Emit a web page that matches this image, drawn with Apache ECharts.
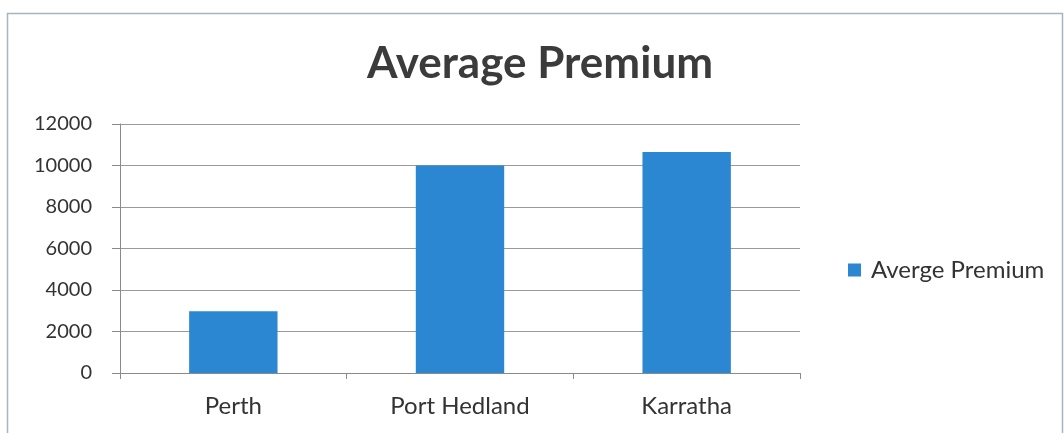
<!DOCTYPE html>
<html>
<head>
<meta charset="utf-8">
<script src="https://cdn.jsdelivr.net/npm/echarts@6/dist/echarts.min.js"></script>
<style>
html,body{margin:0;padding:0;background:#fff;}
#chart{width:1064px;height:433px;}
</style>
</head>
<body>
<div id="chart"></div>
<script>
const categories = ["Perth", "Port Hedland", "Karratha"];
const premiumValues = [2980, 10000, 10650];
const yTicks = [0, 2000, 4000, 6000, 8000, 10000, 12000];
const seriesName = "Averge Premium";
const titleText = "Average Premium";

const chart = echarts.init(document.getElementById('chart'), null, {renderer: 'canvas'});
const font = 'Lato, "Open Sans", "Noto Sans", sans-serif';
chart.setOption({
  animation: false,
  backgroundColor: '#ffffff',
  graphic: [{
    type: 'rect', left: 5, top: 11, silent: true,
    shape: {width: 1055, height: 430},
    style: {fill: 'none', stroke: '#a9b4bf', lineWidth: 1.5}
  }],
  title: {
    text: titleText, left: 362, top: 37,
    textStyle: {fontFamily: font, fontSize: 44, fontWeight: 'bold', color: '#3b3b3b'}
  },
  legend: {
    data: [seriesName], left: 843, top: 253, orient: 'vertical',
    itemWidth: 13, itemHeight: 13, itemGap: 8,
    icon: 'rect',
    textStyle: {fontFamily: font, fontSize: 24, color: '#333', padding: [0, 0, 0, 5]}
  },
  grid: {left: 120, right: 264, top: 124, bottom: 60},
  xAxis: {
    type: 'category', data: categories,
    axisLine: {lineStyle: {color: '#8a8a8a', width: 1}},
    axisTick: {show: true, length: 6, alignWithLabel: false, lineStyle: {color: '#8a8a8a'}},
    axisLabel: {fontFamily: font, fontSize: 24, color: '#333', margin: 21}
  },
  yAxis: {
    type: 'value', min: 0, max: 12000, interval: 2000,
    axisLine: {show: true, lineStyle: {color: '#8a8a8a'}},
    axisTick: {show: true, length: 8, lineStyle: {color: '#8a8a8a'}},
    axisLabel: {fontFamily: font, fontSize: 20, color: '#333', margin: 28,
      formatter: v => yTicks.includes(v) ? String(v) : ''},
    splitLine: {lineStyle: {color: '#9a9a9a', width: 1}}
  },
  series: [{
    name: seriesName, type: 'bar', data: premiumValues,
    barWidth: '39%',
    itemStyle: {color: '#2b87d1'}
  }]
});
</script>
</body>
</html>
